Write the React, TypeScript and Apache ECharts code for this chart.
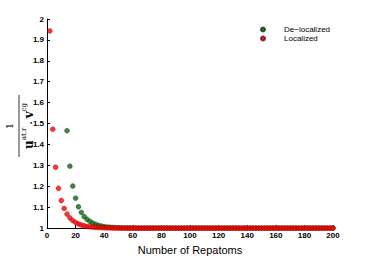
import React, { useEffect, useRef } from "react";
import * as echarts from "echarts";

const redX = [
  2, 4, 6, 8, 10, 12, 14, 16, 18, 20, 22, 24, 26, 28, 30, 32, 34, 36, 38, 40,
  42, 44, 46, 48, 50, 52, 54, 56, 58, 60, 62, 64, 66, 68, 70, 72, 74, 76, 78, 80,
  82, 84, 86, 88, 90, 92, 94, 96, 98, 100, 102, 104, 106, 108, 110, 112, 114, 116, 118, 120,
  122, 124, 126, 128, 130, 132, 134, 136, 138, 140, 142, 144, 146, 148, 150, 152, 154, 156, 158, 160,
  162, 164, 166, 168, 170, 172, 174, 176, 178, 180, 182, 184, 186, 188, 190, 192, 194, 196, 198, 200,
];
const redY = [
  1.943, 1.473, 1.291, 1.19, 1.132, 1.094, 1.067, 1.049, 1.036, 1.027,
  1.02, 1.015, 1.011, 1.008, 1.006, 1.0045, 1.0034, 1.0025, 1.0019, 1.0014,
  1.001, 1.0008, 1.0006, 1.0004, 1.0003, 1.0002, 1.0002, 1.0001, 1.0001,
  1, 1, 1, 1, 1, 1, 1, 1, 1, 1,
  1, 1, 1, 1, 1, 1, 1, 1, 1, 1,
  1, 1, 1, 1, 1, 1, 1, 1, 1, 1,
  1, 1, 1, 1, 1, 1, 1, 1, 1, 1,
  1, 1, 1, 1, 1, 1, 1, 1, 1, 1,
  1, 1, 1, 1, 1, 1, 1, 1, 1, 1,
  1, 1, 1, 1, 1, 1, 1, 1, 1, 1,
  1,
];
const greenX = [
  14, 16, 18, 20, 22, 24, 26, 28, 30, 32, 34, 36, 38, 40,
  42, 44, 46, 48, 50, 52, 54, 56, 58, 60, 62, 64, 66, 68, 70, 72, 74, 76, 78, 80,
  82, 84, 86, 88, 90, 92, 94, 96, 98, 100, 102, 104, 106, 108, 110, 112, 114, 116, 118, 120,
  122, 124, 126, 128, 130, 132, 134, 136, 138, 140, 142, 144, 146, 148, 150, 152, 154, 156, 158, 160,
  162, 164, 166, 168, 170, 172, 174, 176, 178, 180, 182, 184, 186, 188, 190, 192, 194, 196, 198, 200,
];
const greenY = [
  1.466, 1.296, 1.201, 1.143, 1.102, 1.075, 1.055, 1.042, 1.032, 1.024,
  1.018, 1.013, 1.01, 1.007, 1.005, 1.004, 1.003, 1.002, 1.0015, 1.001,
  1.0007, 1.0005, 1.0003, 1.0002, 1.0001,
  1, 1, 1, 1, 1, 1, 1, 1, 1, 1,
  1, 1, 1, 1, 1, 1, 1, 1, 1, 1,
  1, 1, 1, 1, 1, 1, 1, 1, 1, 1,
  1, 1, 1, 1, 1, 1, 1, 1, 1, 1,
  1, 1, 1, 1, 1, 1, 1, 1, 1, 1,
  1, 1, 1, 1, 1, 1, 1, 1, 1, 1,
  1, 1, 1, 1, 1, 1, 1, 1, 1,
];

const seriesNames = ["De\u2212localized", "Localized"];
const xName = "Number of Repatoms";

export default function App() {
  const ref = useRef<HTMLDivElement>(null);
  useEffect(() => {
    if (!ref.current) return;
    const chart = echarts.init(ref.current, null, { renderer: "svg" });
    const tickFont = {
      color: "#000",
      fontSize: 8,
      fontWeight: "bold" as const,
      fontFamily: "Liberation Sans, Arial, sans-serif",
    };
    chart.setOption({
      animation: false,
      backgroundColor: "#fff",
      grid: { left: 47, right: 35, top: 19, bottom: 29, containLabel: false },
      legend: {
        orient: "vertical",
        left: 255,
        top: 20,
        padding: 5,
        itemWidth: 4,
        itemHeight: 4,
        itemGap: 0,
        icon: "circle",
        textStyle: {
          fontSize: 8,
          lineHeight: 9,
          color: "#000",
          fontFamily: "Liberation Sans, Arial, sans-serif",
          padding: [0, 0, 0, 14],
        },
        data: [seriesNames[0], seriesNames[1]],
      },
      xAxis: {
        type: "value",
        min: 0,
        max: 200,
        interval: 20,
        name: xName,
        nameLocation: "middle",
        nameGap: 13,
        nameTextStyle: {
          fontSize: 11,
          color: "#000",
          fontFamily: "Liberation Sans, Arial, sans-serif",
        },
        axisLine: { lineStyle: { color: "#000", width: 1 } },
        axisTick: { inside: true, length: 3, lineStyle: { color: "#000" } },
        axisLabel: { ...tickFont, margin: 3 },
        splitLine: { show: false },
      },
      yAxis: {
        type: "value",
        min: 1,
        max: 2,
        interval: 0.1,
        axisLine: { show: true, lineStyle: { color: "#000", width: 1 } },
        axisTick: { show: true, inside: true, length: 3, lineStyle: { color: "#000" } },
        axisLabel: { ...tickFont, margin: 3 },
        splitLine: { show: false },
      },
      graphic: [
        {
          type: "group",
          x: 19,
          y: 126,
          rotation: Math.PI / 2,
          children: [
            {
              type: "text",
              x: 0,
              y: -5,
              style: {
                text: "1",
                fontSize: 10,
                fontFamily: "DejaVu Serif, serif",
                fill: "#000",
                align: "center",
                verticalAlign: "bottom",
              },
            },
            {
              type: "line",
              shape: { x1: -31, y1: 0, x2: 31, y2: 0 },
              style: { stroke: "#000", lineWidth: 0.8 },
            },
            {
              type: "text",
              x: 0,
              y: 1,
              style: {
                text: "{b|u}{s|at.r}{m| · }{b|v}{s|cg}",
                align: "center",
                verticalAlign: "top",
                fill: "#000",
                rich: {
                  b: {
                    fontSize: 12,
                    fontWeight: "bold",
                    fontFamily: "DejaVu Serif, serif",
                    fill: "#000",
                    lineHeight: 15,
                    verticalAlign: "bottom",
                  },
                  s: {
                    fontSize: 7,
                    fontFamily: "DejaVu Serif, serif",
                    fill: "#000",
                    lineHeight: 15,
                    verticalAlign: "top",
                  },
                  m: {
                    fontSize: 9,
                    fontWeight: "bold",
                    fontFamily: "DejaVu Serif, serif",
                    fill: "#000",
                    lineHeight: 15,
                    verticalAlign: "bottom",
                  },
                },
              },
            },
          ],
        },
      ],
      series: [
        {
          name: seriesNames[0],
          type: "scatter",
          symbol: "circle",
          symbolSize: 5,
          itemStyle: { color: "#0f660f", borderColor: "#063806", borderWidth: 0.4 },
          data: greenX.map((x, i) => [x, greenY[i]]),
          z: 2,
        },
        {
          name: seriesNames[1],
          type: "scatter",
          symbol: "circle",
          symbolSize: 5,
          itemStyle: { color: "#ff0000", borderColor: "#7a0000", borderWidth: 0.4 },
          data: redX.map((x, i) => [x, redY[i]]),
          z: 3,
        },
      ],
    });
    return () => chart.dispose();
  }, []);
  return (
    <div
      ref={ref}
      style={{ position: "absolute", left: 0, top: 0, width: 368, height: 260 }}
    />
  );
}
